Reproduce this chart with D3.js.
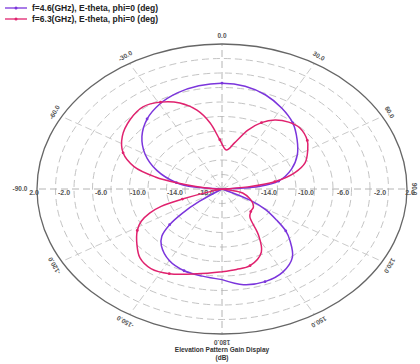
<!DOCTYPE html>
<html><head><meta charset="utf-8">
<script src="https://cdn.jsdelivr.net/npm/d3@7"></script>
<style>html,body{margin:0;padding:0;background:#fff;}svg{display:block;}</style>
</head><body>
<svg id="chart" width="420" height="364"></svg>
<script>
// ---- data ----
const seriesNames = ["f=4.6(GHz), E-theta, phi=0 (deg)", "f=6.3(GHz), E-theta, phi=0 (deg)"];
const seriesColors = ["#7b35dc", "#e0226e"];
const angles46 = [-180,-170,-160,-150,-140,-135,-131,-128,-125,-118,-110,-100,-90,-85,-80,-70,-60,-50,-40,-30,-20,-10,0,10,20,30,40,50,60,70,80,85,90,100,108,117,121,126,130,134,141,150,160,170,180];
const gain46 = [-5.5,-5.8,-6.0,-6.6,-7.8,-8.8,-10.5,-12.5,-15,-20,-22,-22,-20,-15,-13,-10.5,-8.4,-6.7,-5.4,-4.5,-3.9,-3.55,-3.4,-3.6,-4.2,-5.1,-6.1,-7.4,-8.6,-10.0,-11.8,-14,-20,-22,-18,-14.6,-12.5,-10.7,-9.0,-7.8,-5.9,-4.8,-4.4,-4.6,-5.5];
const angles63 = [-180,-167,-154,-145,-137,-130,-122,-117,-113,-110,-108,-105,-100,-90,-88,-80,-77,-72,-65,-56,-46,-37,-29,-21,-14,-8,-2,5,12,19,25,31,38,45,54,60,68,74,80,84,88,92,100,104,115,126,135,142,148,154,164,172,180];
const gain63 = [-6.6,-6.0,-5.0,-4.6,-5.0,-6.0,-7.2,-8.2,-9.5,-11,-13.5,-17,-22,-22,-17,-13.0,-10.6,-8.0,-6.2,-5.0,-4.2,-3.8,-4.3,-5.3,-6.8,-8.8,-11.2,-12.6,-11.5,-9.4,-7.9,-6.9,-6.3,-6.1,-6.6,-7.3,-8.3,-9.8,-12.2,-15.2,-20,-22,-17,-15.7,-14.6,-13.8,-13.6,-13.1,-10.6,-8.3,-7.0,-6.8,-6.6];
const ringValues = [-16,-14,-12,-10,-8,-6,-4,-2,0];
const radialTickValues = [2,-2,-6,-10,-14,-18];
const radialTickLabels = ["2.0","-2.0","-6.0","-10.0","-14.0","-18.0"];
const angleTicks = [0,30,60,90,120,150,180,-150,-120,-90,-60,-30];
const angleTickLabels = ["0.0","30.0","60.0","90.0","120.0","150.0","180.0","-150.0","-120.0","-90.0","-60.0","-30.0"];
const titleLines = ["Elevation Pattern Gain Display", "(dB)"];

// ---- layout ----
const cx = 222, cy = 189, rx = 185, ry = 145;
const svg = d3.select("#chart");
const rScale = d3.scaleLinear().domain([-18, 2]).range([0, 1]).clamp(true);
const aScale = d3.scaleLinear().domain([0, 360]).range([0, 2 * Math.PI]);
const px = (a, v) => cx + rx * rScale(v) * Math.sin(aScale(a));
const py = (a, v) => cy - ry * rScale(v) * Math.cos(aScale(a));

const grid = svg.append("g");
// rings
ringValues.forEach(v => {
  grid.append("ellipse").attr("cx", cx).attr("cy", cy)
    .attr("rx", rx * rScale(v)).attr("ry", ry * rScale(v))
    .attr("fill", "none").attr("stroke", "#c4c4c4").attr("stroke-width", 1)
    .attr("stroke-dasharray", "7,4");
});
// spokes
d3.range(0, 360, 30).forEach(a => {
  const axis = (a % 90 === 0);
  grid.append("line")
    .attr("x1", cx).attr("y1", cy)
    .attr("x2", px(a, 2)).attr("y2", py(a, 2))
    .attr("stroke", axis ? "#b4b4b4" : "#cacaca").attr("stroke-width", 1)
    .attr("stroke-dasharray", "7,4");
});
// outer ellipse
grid.append("ellipse").attr("cx", cx).attr("cy", cy).attr("rx", rx).attr("ry", ry)
  .attr("fill", "none").attr("stroke", "#666").attr("stroke-width", 1.3);

// radial tick labels on horizontal axis
radialTickValues.forEach((v, i) => {
  const r = rx * rScale(v);
  const last = i === radialTickValues.length - 1;
  const off = i === 0 ? 3 : (last ? 16 : 10);
  [-1, 1].forEach(s => {
    if (last && s === 1) return;
    grid.append("text")
      .attr("x", cx + s * (r + off)).attr("y", cy + 6)
      .attr("text-anchor", "middle")
      .attr("font-family", "Arial, Liberation Sans, sans-serif")
      .attr("font-size", 7).attr("font-weight", "bold").attr("fill", "#555")
      .text(radialTickLabels[i]);
  });
});

// angle labels
angleTicks.forEach((a, i) => {
  const x = cx + (rx + 8) * Math.sin(aScale(a));
  const y = cy - (ry + 8) * Math.cos(aScale(a));
  const t = svg.append("text")
    .attr("text-anchor", "middle").attr("dominant-baseline", "middle")
    .attr("font-family", "Arial, Liberation Sans, sans-serif")
    .attr("font-size", 6.5).attr("font-weight", "bold").attr("fill", "#555")
    .text(angleTickLabels[i]);
  if (a === -90) {
    t.attr("x", 20).attr("y", cy);
  } else if (a === 90) {
    t.attr("transform", `translate(${414},${cy}) rotate(90)`);
  } else {
    t.attr("transform", `translate(${x},${y}) rotate(${a})`);
  }
});

// series
const line = d3.line().x(d => d[0]).y(d => d[1]).curve(d3.curveCatmullRom.alpha(0.5));
const series = [[angles46, gain46], [angles63, gain63]];
series.forEach(([angs, gains], si) => {
  const pts = angs.map((a, i) => [px(a, gains[i]), py(a, gains[i])]);
  svg.append("path").attr("d", line(pts))
    .attr("fill", "none").attr("stroke", seriesColors[si]).attr("stroke-width", 1.5);
  svg.selectAll(null).data(pts.filter((d, i) => i % 4 === 2 && gains[i] > -17))
    .enter().append("circle")
    .attr("cx", d => d[0]).attr("cy", d => d[1]).attr("r", 1.4)
    .attr("fill", seriesColors[si]);
});

// legend
seriesNames.forEach((n, i) => {
  const y = 8 + i * 11;
  svg.append("line").attr("x1", 5).attr("x2", 27).attr("y1", y).attr("y2", y)
    .attr("stroke", seriesColors[i]).attr("stroke-width", 1.3);
  svg.append("circle").attr("cx", 16).attr("cy", y).attr("r", 1.5).attr("fill", seriesColors[i]);
  svg.append("text").attr("x", 32).attr("y", y + 3)
    .attr("font-family", "Arial, Liberation Sans, sans-serif")
    .attr("font-size", 8.5).attr("font-weight", "bold").attr("fill", "#222")
    .text(n);
});

// title
titleLines.forEach((t, i) => {
  svg.append("text").attr("x", cx).attr("y", 352 + i * 8)
    .attr("text-anchor", "middle")
    .attr("font-family", "Arial, Liberation Sans, sans-serif")
    .attr("font-size", 6.5).attr("font-weight", "bold").attr("fill", "#333")
    .text(t);
});
</script>
</body></html>
